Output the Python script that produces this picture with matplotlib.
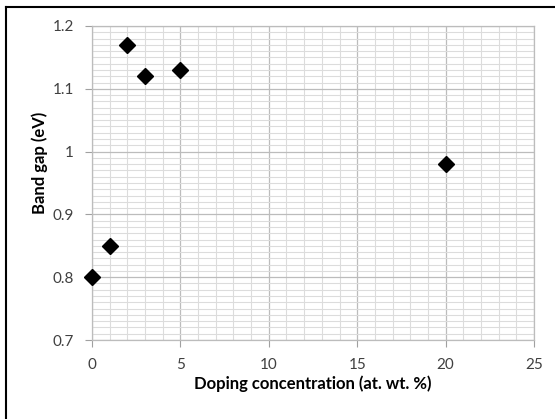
import numpy as np
import matplotlib
matplotlib.use('Agg')
import matplotlib.pyplot as plt
from matplotlib.lines import Line2D
from matplotlib.ticker import MultipleLocator

# data
doping = [0, 1, 2, 3, 5, 20]
band_gap = [0.80, 0.85, 1.17, 1.12, 1.13, 0.98]

plt.rcParams['font.family'] = ['Lato', 'DejaVu Sans']

fig = plt.figure(figsize=(5.55, 4.19), dpi=100)
ax = fig.add_axes([92/555, 1 - 340/419, (534 - 92)/555, (340 - 26)/419])

ax.set_xlim(0, 25)
ax.set_ylim(0.7, 1.2)
ax.xaxis.set_major_locator(MultipleLocator(5))
ax.xaxis.set_minor_locator(MultipleLocator(1))
ax.yaxis.set_major_locator(MultipleLocator(0.1))
ax.yaxis.set_minor_locator(MultipleLocator(0.01))
ax.set_yticks([0.7, 0.8, 0.9, 1.0, 1.1, 1.2])
ax.set_yticklabels(['0.7', '0.8', '0.9', '1', '1.1', '1.2'])

ax.grid(True, which='minor', color='#dcdcdc', linewidth=0.8)
ax.grid(True, which='major', color='#bcbcbc', linewidth=0.9)
ax.set_axisbelow(True)

for s in ax.spines.values():
    s.set_color('#bcbcbc')
    s.set_linewidth(0.9)

ax.tick_params(which='major', length=5, color='#a0a0a0', labelsize=11,
               labelcolor='#404040', pad=8)
ax.tick_params(which='minor', length=0)

ax.plot(doping, band_gap, 'D', color='black', markersize=8, clip_on=False, zorder=5)

ax.set_xlabel('Doping concentration (at. wt. %)', fontsize=12, fontweight='bold')
ax.set_ylabel('Band gap (eV)', fontsize=12, fontweight='bold')
ax.xaxis.set_label_coords(0.5, -(384 - 340)/314, transform=ax.transAxes)
ax.yaxis.set_label_coords(-(92 - 40)/442, (340 - 163)/314, transform=ax.transAxes)
ax.xaxis.label.set_va('center')
ax.yaxis.label.set_va('center')

# outer chart frame (only left and top edges are visible in the reference)
fig.add_artist(Line2D([6/555, 6/555], [0, 1 - 7/419], color='black', linewidth=1.5))
fig.add_artist(Line2D([6/555, 1], [1 - 7/419, 1 - 7/419], color='black', linewidth=1.5))

fig.savefig('out.png', dpi=100)
